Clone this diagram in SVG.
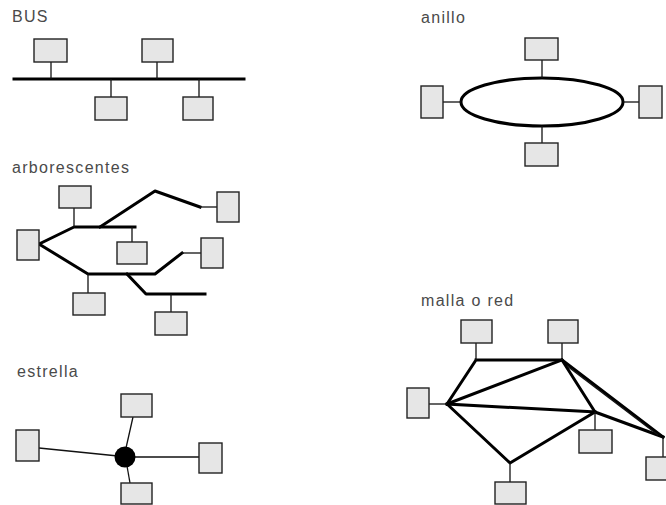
<svg xmlns="http://www.w3.org/2000/svg" width="666" height="505" viewBox="0 0 666 505">
<style>
.box{fill:#e6e6e6;stroke:#222;stroke-width:1.4}
.thick{fill:none;stroke:#000;stroke-width:3;stroke-linejoin:round;stroke-linecap:square}
.thin{fill:none;stroke:#111;stroke-width:1.3}
.lbl{font-family:"Liberation Sans",Arial,sans-serif;font-size:16px;letter-spacing:1.3px;fill:#4a4a4a}
</style>
<rect width="666" height="505" fill="#fff"/>
<g id="labels">
<text class="lbl" x="12" y="22">BUS</text>
<text class="lbl" x="421" y="23">anillo</text>
<text class="lbl" x="12" y="173">arborescentes</text>
<text class="lbl" x="17" y="377">estrella</text>
<text class="lbl" x="421" y="306">malla o red</text>
</g>
<g id="connectors">
<!-- BUS -->
<line class="thick" x1="14" y1="79" x2="244" y2="79"/>
<line class="thin" x1="51" y1="62" x2="51" y2="79"/>
<line class="thin" x1="157" y1="62" x2="157" y2="79"/>
<line class="thin" x1="111" y1="79" x2="111" y2="97"/>
<line class="thin" x1="199" y1="79" x2="199" y2="97"/>
<!-- anillo -->
<ellipse cx="542" cy="102" rx="81" ry="24" fill="none" stroke="#000" stroke-width="3"/>
<line class="thin" x1="542" y1="60" x2="542" y2="78"/>
<line class="thin" x1="542" y1="126" x2="542" y2="143"/>
<line class="thin" x1="443" y1="102" x2="461" y2="102"/>
<line class="thin" x1="623" y1="102" x2="639" y2="102"/>
<!-- arborescentes -->
<polyline class="thick" points="39,244 74,227 135,227"/>
<polyline class="thick" points="100,227 155,191 200,207"/>
<line class="thin" x1="200" y1="207" x2="217" y2="207"/>
<polyline class="thick" points="39,244 88,274 155,274 182,253"/>
<line class="thin" x1="182" y1="253" x2="201" y2="253"/>
<polyline class="thick" points="127,274 146,294 205,294"/>
<line class="thin" x1="74" y1="208" x2="74" y2="227"/>
<line class="thin" x1="132" y1="227" x2="132" y2="242"/>
<line class="thin" x1="88" y1="274" x2="88" y2="293"/>
<line class="thin" x1="171" y1="294" x2="171" y2="312"/>
<!-- estrella -->
<line class="thin" x1="39" y1="448" x2="118" y2="456"/>
<line class="thin" x1="133" y1="417" x2="126" y2="448"/>
<line class="thin" x1="125" y1="457" x2="199" y2="457"/>
<line class="thin" x1="127" y1="466" x2="130" y2="483"/>
<!-- malla -->
<polyline class="thick" points="476,360 562,360 595,412 510,463 447,404 476,360"/>
<line class="thick" x1="447" y1="404" x2="562" y2="360"/>
<line class="thick" x1="447" y1="404" x2="595" y2="412"/>
<line class="thick" x1="562" y1="360" x2="663" y2="437"/>
<line class="thick" x1="595" y1="412" x2="663" y2="437"/>
<line class="thin" x1="567" y1="366" x2="658" y2="435"/>
<line class="thin" x1="476" y1="343" x2="476" y2="360"/>
<line class="thin" x1="562" y1="343" x2="562" y2="360"/>
<line class="thin" x1="429" y1="404" x2="447" y2="404"/>
<line class="thin" x1="595" y1="412" x2="595" y2="430"/>
<line class="thin" x1="663" y1="437" x2="663" y2="457"/>
<line class="thin" x1="510" y1="463" x2="510" y2="482"/>
</g>
<g id="bus-nodes">
<rect id="bus1" class="box" x="34" y="39" width="33" height="23"/>
<rect id="bus2" class="box" x="142" y="39" width="31" height="23"/>
<rect id="bus3" class="box" x="95" y="97" width="32" height="23"/>
<rect id="bus4" class="box" x="183" y="97" width="30" height="23"/>
</g>
<g id="ring-nodes">
<rect id="ring-top" class="box" x="525" y="38" width="33" height="22"/>
<rect id="ring-bottom" class="box" x="525" y="143" width="33" height="23"/>
<rect id="ring-left" class="box" x="421" y="86" width="22" height="32"/>
<rect id="ring-right" class="box" x="639" y="86" width="23" height="32"/>
</g>
<g id="tree-nodes">
<rect id="tree-root" class="box" x="17" y="230" width="22" height="30"/>
<rect id="tree-top" class="box" x="59" y="186" width="32" height="22"/>
<rect id="tree-mid" class="box" x="117" y="242" width="30" height="22"/>
<rect id="tree-right-top" class="box" x="217" y="192" width="22" height="30"/>
<rect id="tree-right-mid" class="box" x="201" y="238" width="22" height="30"/>
<rect id="tree-bottom-left" class="box" x="73" y="293" width="32" height="22"/>
<rect id="tree-bottom-right" class="box" x="155" y="312" width="32" height="23"/>
</g>
<g id="star-nodes">
<circle id="star-hub" cx="125" cy="457" r="10.5" fill="#000"/>
<rect id="star-top" class="box" x="121" y="394" width="31" height="23"/>
<rect id="star-left" class="box" x="16" y="430" width="23" height="31"/>
<rect id="star-right" class="box" x="199" y="443" width="23" height="30"/>
<rect id="star-bottom" class="box" x="121" y="483" width="31" height="21"/>
</g>
<g id="mesh-nodes">
<rect id="mesh-top-left" class="box" x="461" y="320" width="31" height="23"/>
<rect id="mesh-top-right" class="box" x="548" y="320" width="30" height="23"/>
<rect id="mesh-left" class="box" x="407" y="388" width="22" height="30"/>
<rect id="mesh-mid-right" class="box" x="579" y="430" width="33" height="23"/>
<rect id="mesh-far-right" class="box" x="646" y="457" width="22" height="23"/>
<rect id="mesh-bottom" class="box" x="495" y="482" width="31" height="22"/>
</g>
</svg>
